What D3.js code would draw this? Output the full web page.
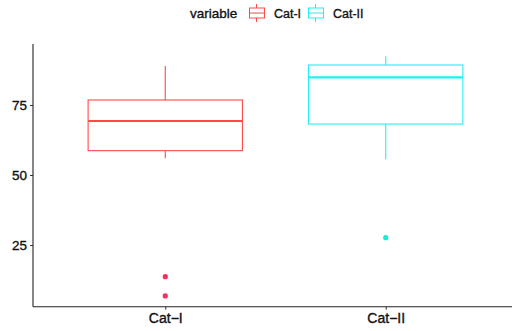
<!DOCTYPE html>
<html>
<head>
<meta charset="utf-8">
<script src="https://cdn.jsdelivr.net/npm/d3@7"></script>
<style>
  html, body { margin: 0; padding: 0; background: #fff; }
  svg { display: block; }
  text { font-family: "Liberation Sans", Arial, Helvetica, sans-serif; stroke: #111; stroke-width: 0.35px; }
</style>
</head>
<body>
<svg id="chart" width="512" height="331"></svg>
<script>
// Categories and their box-plot summaries
const categories = ["Cat-I", "Cat-II"];
const colors = ["#FF4A4A", "#22F0F0"];
const pointColors = ["#F5305E", "#10F0D8"];
const whiskerLow = [56.0, 55.6];
const q1 = [58.7, 68.2];
const median = [69.3, 84.9];
const q3 = [76.8, 89.3];
const whiskerHigh = [88.9, 92.4];
const outliers = [[13.7, 6.8], [27.6]];
const yTicks = [25, 50, 75];

const svg = d3.select("#chart");
const W = 512, H = 331;
const plot = { left: 33, top: 44, bottom: 306.7, right: 518 };

// continuous y with ggplot-style 5% expansion of the data extent
const y = d3.scaleLinear().domain([2.96, 96.8]).range([plot.bottom, plot.top]);
// discrete x positions 1..n with 0.6 expansion on each side
const xi = d3.scaleLinear().domain([0.4, categories.length + 0.6]).range([plot.left, plot.right]);
const xc = c => xi(categories.indexOf(c) + 1);
const boxW = xi(1.7) - xi(1);

const rows = categories.map((c, i) => ({
  cat: c, color: colors[i], pcolor: pointColors[i],
  lo: whiskerLow[i], q1: q1[i], med: median[i], q3: q3[i], hi: whiskerHigh[i],
  out: outliers[i]
}));

const g = svg.append("g");
rows.forEach(r => {
  const cx = xc(r.cat);
  const gg = g.append("g");
  // whiskers
  gg.append("line").attr("x1", cx).attr("x2", cx).attr("y1", y(r.hi)).attr("y2", y(r.q3))
    .attr("stroke", r.color).attr("stroke-width", 1.1);
  gg.append("line").attr("x1", cx).attr("x2", cx).attr("y1", y(r.q1)).attr("y2", y(r.lo))
    .attr("stroke", r.color).attr("stroke-width", 1.1);
  // box
  gg.append("rect").attr("x", cx - boxW / 2).attr("width", boxW)
    .attr("y", y(r.q3)).attr("height", y(r.q1) - y(r.q3))
    .attr("fill", "#fff").attr("stroke", r.color).attr("stroke-width", 1.1);
  // median
  gg.append("line").attr("x1", cx - boxW / 2).attr("x2", cx + boxW / 2)
    .attr("y1", y(r.med)).attr("y2", y(r.med))
    .attr("stroke", r.color).attr("stroke-width", 2.2);
  // outliers
  gg.selectAll("circle").data(r.out).join("circle")
    .attr("cx", cx).attr("cy", d => y(d)).attr("r", 2.6).attr("fill", r.pcolor);
});

// y axis
const yAxis = svg.append("g").attr("transform", `translate(${plot.left},0)`)
  .call(d3.axisLeft(y).tickValues(yTicks).tickSize(3).tickPadding(3));
yAxis.select(".domain").remove();
yAxis.selectAll(".tick line").attr("stroke", "#333");
yAxis.selectAll(".tick text").attr("font-size", 13.5).attr("fill", "#111")
  .attr("font-family", "Liberation Sans, Arial, sans-serif");
svg.append("line").attr("x1", plot.left).attr("x2", plot.left)
  .attr("y1", plot.top).attr("y2", plot.bottom).attr("stroke", "#222").attr("stroke-width", 1.1);

// x axis
const xAxis = svg.append("g").attr("transform", `translate(0,${plot.bottom})`)
  .call(d3.axisBottom(xi).tickValues(categories.map((c, i) => i + 1))
    .tickFormat(d => categories[d - 1].replace("-", "\u2212")).tickSize(3).tickPadding(3));
xAxis.select(".domain").remove();
xAxis.selectAll(".tick line").attr("stroke", "#333");
xAxis.selectAll(".tick text").attr("font-size", 14).attr("fill", "#111")
  .attr("font-family", "Liberation Sans, Arial, sans-serif");
svg.append("line").attr("x1", plot.left).attr("x2", W)
  .attr("y1", plot.bottom).attr("y2", plot.bottom).attr("stroke", "#222").attr("stroke-width", 1.1);

// legend
const leg = svg.append("g");
leg.append("text").attr("x", 190).attr("y", 18).attr("font-size", 13.5).attr("fill", "#111").text("variable");
const keyX = [248, 307], labX = [274, 333];
rows.forEach((r, i) => {
  const k = leg.append("g").attr("transform", `translate(${keyX[i]},0)`);
  const cx = 8.5;
  k.append("line").attr("x1", cx).attr("x2", cx).attr("y1", 4).attr("y2", 8).attr("stroke", r.color);
  k.append("line").attr("x1", cx).attr("x2", cx).attr("y1", 18).attr("y2", 22).attr("stroke", r.color);
  k.append("rect").attr("x", 1.5).attr("y", 8).attr("width", 15).attr("height", 10)
    .attr("fill", "#fff").attr("stroke", r.color);
  k.append("line").attr("x1", 1.5).attr("x2", 16.5).attr("y1", 13).attr("y2", 13).attr("stroke", r.color);
  leg.append("text").attr("x", labX[i]).attr("y", 18).attr("font-size", 12.5).attr("fill", "#111").text(r.cat);
});
</script>
</body>
</html>
